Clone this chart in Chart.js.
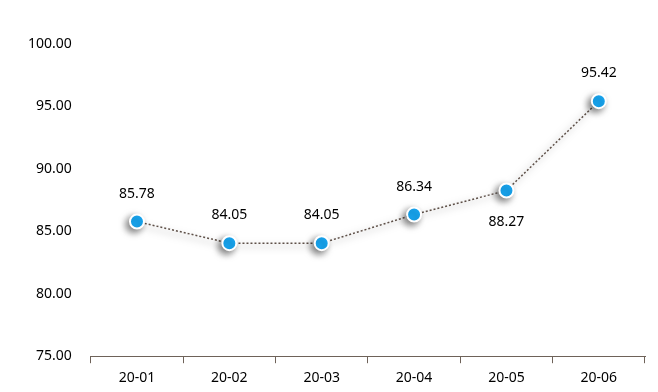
<!DOCTYPE html>
<html lang="en">
<head>
    <meta charset="UTF-8">
    <title>Line chart</title>
    <style>
        html, body {
            margin: 0;
            padding: 0;
            background: #ffffff;
        }
        #wrap {
            width: 658px;
            height: 392px;
        }
    </style>
    <script src="https://cdn.jsdelivr.net/npm/chart.js"></script>
</head>
<body>
    <div id="wrap"><canvas id="chart"></canvas></div>

    <script>
        const months = ['20-01', '20-02', '20-03', '20-04', '20-05', '20-06'];
        const values = [85.78, 84.05, 84.05, 86.34, 88.27, 95.42];
        // label drawn under the point instead of above
        const labelBelow = [false, false, false, false, true, false];
        const yTicks = [75, 80, 85, 90, 95, 100];

        // soft shadow behind the line and the points
        const shadowPlugin = {
            id: 'shadow',
            beforeDatasetDraw(chart) {
                const ctx = chart.ctx;
                ctx.save();
                ctx.shadowColor = 'rgba(0, 0, 0, 0.5)';
                ctx.shadowBlur = 7;
                ctx.shadowOffsetX = -3;
                ctx.shadowOffsetY = 3;
            },
            afterDatasetDraw(chart) {
                chart.ctx.restore();
            }
        };

        // value labels
        const labelPlugin = {
            id: 'valueLabels',
            afterDatasetsDraw(chart) {
                const ctx = chart.ctx;
                const meta = chart.getDatasetMeta(0);
                ctx.save();
                ctx.font = '14px "Noto Sans", sans-serif';
                ctx.fillStyle = '#000';
                ctx.textAlign = 'center';
                ctx.textBaseline = 'middle';
                meta.data.forEach((pt, i) => {
                    const dy = labelBelow[i] ? 32 : -28;
                    ctx.fillText(values[i].toFixed(2), pt.x, pt.y + dy);
                });
                ctx.restore();
            }
        };

        new Chart(document.getElementById('chart'), {
            type: 'line',
            data: {
                labels: months,
                datasets: [{
                    data: values,
                    borderColor: '#5e5048',
                    borderWidth: 1.5,
                    borderDash: [2, 2],
                    tension: 0,
                    pointRadius: 7,
                    pointBorderWidth: 2,
                    pointBackgroundColor: '#1ab0ff',
                    pointBorderColor: '#ffffff',
                    fill: false
                }]
            },
            options: {
                responsive: true,
                maintainAspectRatio: false,
                animation: false,
                layout: {
                    padding: { left: 17, right: 13, top: 44, bottom: 0 }
                },
                plugins: {
                    legend: { display: false },
                    tooltip: { enabled: false }
                },
                scales: {
                    x: {
                        offset: true,
                        grid: {
                            offset: true,
                            drawOnChartArea: false,
                            tickLength: 7,
                            color: '#6e6259'
                        },
                        border: { color: '#6e6259', width: 1 },
                        ticks: {
                            color: '#000',
                            padding: 6,
                            font: { family: '"Noto Sans", sans-serif', size: 14 }
                        }
                    },
                    y: {
                        min: 75,
                        max: 100,
                        afterBuildTicks(axis) {
                            axis.ticks = yTicks.map(v => ({ value: v }));
                        },
                        grid: { display: false },
                        border: { display: false },
                        ticks: {
                            color: '#000',
                            padding: 11,
                            font: { family: '"Noto Sans", sans-serif', size: 14 },
                            callback: v => Number(v).toFixed(2)
                        }
                    }
                }
            },
            plugins: [shadowPlugin, labelPlugin]
        });
    </script>
</body>
</html>
